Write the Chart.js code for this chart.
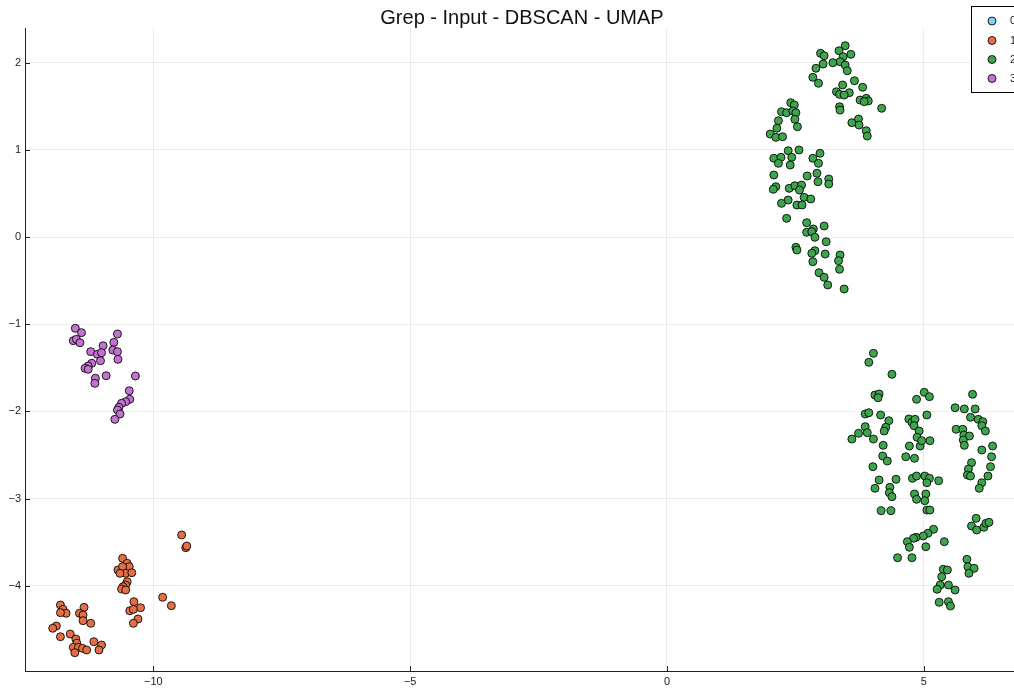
<!DOCTYPE html>
<html>
<head>
<meta charset="utf-8">
<script src="https://cdn.jsdelivr.net/npm/chart.js@4/dist/chart.umd.min.js"></script>
<style>
  html, body { margin: 0; padding: 0; background: #fff; }
  #wrap { width: 1014px; height: 690px; }
</style>
</head>
<body>
<div id="wrap"><canvas id="c" width="1014" height="690"></canvas></div>
<script>
// ---------- data ----------
const chartTitle = "Grep - Input - DBSCAN - UMAP";
const seriesLabels = ["0", "1", "2", "3"];
const xTicks = [-10, -5, 0, 5];
const yTicks = [-4, -3, -2, -1, 0, 1, 2];

// cluster 0 (noise) - no visible points
const cluster0X = [];
const cluster0Y = [];

// cluster 1 (orange)
const cluster1X = [-9.45, -9.37, -9.35, -10.60, -10.51, -10.47, -10.69, -10.60, -10.54, -10.42, -10.65, -10.51, -10.54, -10.59, -10.62, -10.54,
  -9.82, -9.65, -10.38, -10.25, -10.46, -10.39, -10.30, -10.39, -11.81, -11.76, -11.70, -11.81, -11.35, -11.44, -11.37, -11.37, -11.22,
  -11.89, -11.96, -11.81, -11.62, -11.51, -11.49, -11.56, -11.46, -11.53, -11.38, -11.30, -11.16, -11.01, -11.06];
const cluster1Y = [-3.417, -3.563, -3.544, -3.685, -3.742, -3.781, -3.819, -3.781, -3.857, -3.850, -3.857, -3.953, -3.991, -4.010, -4.037, -4.048,
  -4.132, -4.228, -4.182, -4.251, -4.286, -4.270, -4.381, -4.430, -4.220, -4.270, -4.315, -4.308, -4.247, -4.315, -4.335, -4.400, -4.430,
  -4.461, -4.487, -4.584, -4.553, -4.610, -4.659, -4.705, -4.705, -4.767, -4.717, -4.736, -4.641, -4.679, -4.736];

// cluster 2 (green) - upper group then lower group
const cluster2X = [3.47, 3.35, 2.99, 3.06, 3.58, 3.43, 3.37, 3.23, 3.04, 3.47, 3.51, 2.90, 2.84, 2.95, 3.65, 3.81, 3.42, 3.30, 3.36, 3.55,
  3.45, 3.76, 3.88, 3.92, 3.84, 4.18, 3.36, 3.37, 3.60, 3.73, 3.74, 3.88, 3.90, 2.41, 2.48, 2.23, 2.33, 2.45, 2.51, 2.17,
  2.49, 2.14, 2.54, 2.01, 2.12, 2.25, 2.36, 2.57, 2.08, 2.22, 2.17, 2.43, 2.40, 2.84, 2.98, 2.95, 2.92, 2.73, 2.94, 3.15,
  3.15, 2.08, 2.12, 2.07, 2.38, 2.49, 2.62, 2.58, 2.67, 2.80, 2.36, 2.23, 2.53, 2.63, 2.33, 2.72, 2.85, 2.72, 2.82, 3.06,
  2.88, 3.10, 2.51, 2.53, 2.88, 2.82, 3.08, 2.84, 3.37, 3.34, 3.36, 2.96, 3.06, 3.13, 3.45,
  4.02, 3.93, 4.38, 4.05, 4.13, 4.11, 4.86, 5.01, 5.11, 5.95, 3.86, 3.93, 4.16, 4.32, 3.86, 3.73, 3.90, 3.60, 4.02, 4.26,
  4.23, 4.21, 4.20, 4.29, 4.01, 4.71, 4.77, 4.83, 4.81, 5.06, 4.91, 4.87, 4.93, 4.96, 5.12, 4.72, 4.65, 4.82, 5.61, 5.79,
  6.00, 5.91, 6.06, 6.15, 6.13, 6.20, 5.63, 5.76, 5.78, 5.89, 5.77, 5.79, 6.13, 6.34, 6.32, 6.30, 5.93, 5.87, 5.85, 5.91,
  6.25, 6.13, 6.08, 4.13, 4.46, 4.05, 4.34, 4.33, 4.38, 4.78, 4.86, 5.02, 5.11, 5.06, 5.29, 4.82, 4.86, 5.04, 5.02, 5.06,
  5.12, 4.17, 4.36, 6.02, 5.93, 6.03, 6.17, 6.21, 6.27, 5.19, 5.08, 4.99, 4.85, 4.80, 4.68, 4.72, 5.40, 5.04, 4.49, 4.77,
  5.84, 5.86, 5.98, 5.88, 5.38, 5.46, 5.35, 5.32, 5.48, 5.26, 5.61, 5.30, 5.48, 5.52];
const cluster2Y = [2.194, 2.136, 2.107, 2.079, 2.095, 2.068, 2.010, 1.999, 1.984, 1.972, 1.907, 1.935, 1.831, 1.763, 1.792, 1.717, 1.743, 1.666, 1.636, 1.655,
  1.628, 1.571, 1.591, 1.560, 1.552, 1.476, 1.494, 1.456, 1.311, 1.353, 1.284, 1.219, 1.158, 1.540, 1.514, 1.437, 1.425, 1.445, 1.425, 1.334,
  1.350, 1.247, 1.265, 1.181, 1.143, 1.150, 0.990, 0.998, 0.903, 0.914, 0.845, 0.914, 0.826, 0.903, 0.960, 0.845, 0.731, 0.700, 0.634, 0.665,
  0.608, 0.711, 0.577, 0.547, 0.558, 0.588, 0.596, 0.539, 0.455, 0.436, 0.424, 0.386, 0.367, 0.367, 0.214, 0.164, 0.092, 0.054, 0.061, 0.126,
  -0.003, -0.054, -0.118, -0.149, -0.157, -0.187, -0.195, -0.283, -0.206, -0.272, -0.370, -0.409, -0.462, -0.550, -0.596,
  -1.334, -1.437, -1.575, -1.812, -1.800, -1.843, -1.861, -1.781, -1.831, -1.804, -2.030, -2.015, -2.041, -2.107, -2.175, -2.251, -2.244, -2.317, -2.317, -2.182,
  -2.225, -2.389, -2.511, -2.569, -2.634, -2.087, -2.125, -2.091, -2.164, -2.041, -2.225, -2.297, -2.397, -2.336, -2.336, -2.397, -2.520, -2.538, -1.958, -1.972,
  -1.972, -2.068, -2.091, -2.118, -2.164, -2.225, -2.205, -2.205, -2.271, -2.282, -2.328, -2.389, -2.443, -2.397, -2.520, -2.634, -2.588, -2.661, -2.729, -2.741,
  -2.741, -2.818, -2.882, -2.787, -2.779, -2.882, -2.870, -2.932, -2.978, -2.767, -2.741, -2.741, -2.767, -2.818, -2.795, -2.947, -3.008, -2.947, -3.024, -3.131,
  -3.131, -3.139, -3.139, -3.226, -3.314, -3.360, -3.329, -3.283, -3.272, -3.352, -3.398, -3.429, -3.444, -3.455, -3.494, -3.558, -3.494, -3.552, -3.678, -3.678,
  -3.696, -3.781, -3.799, -3.857, -3.811, -3.819, -3.896, -3.991, -3.991, -4.040, -4.048, -4.189, -4.182, -4.232];

// cluster 3 (purple)
const cluster3X = [-11.52, -11.40, -11.56, -11.50, -11.43, -10.70, -10.77, -10.98, -11.22, -11.09, -11.01, -10.79, -10.70, -10.69, -11.03, -11.20,
  -11.27, -11.33, -11.27, -11.13, -11.14, -10.92, -10.35, -10.47, -10.46, -10.54, -10.62, -10.67, -10.70, -10.65, -10.75];
const cluster3Y = [-1.047, -1.097, -1.189, -1.173, -1.212, -1.112, -1.208, -1.247, -1.315, -1.345, -1.327, -1.296, -1.315, -1.403, -1.419, -1.448,
  -1.479, -1.506, -1.517, -1.620, -1.678, -1.591, -1.594, -1.763, -1.861, -1.889, -1.907, -1.953, -1.984, -2.030, -2.091];

const seriesColors = ["#80CDFC", "#E36F47", "#3EA44E", "#C371D2"];

// ---------- build ----------
function zip(xs, ys) { return xs.map((x, i) => ({ x: x, y: ys[i] })); }
const seriesData = [zip(cluster0X, cluster0Y), zip(cluster1X, cluster1Y), zip(cluster2X, cluster2Y), zip(cluster3X, cluster3Y)];

const FONT = "'Liberation Sans', Arial, Helvetica, sans-serif";
const fmt = v => String(v).replace('-', '\u2212');

const titlePlugin = {
  id: 'plotTitle',
  afterDraw(chart) {
    const ctx = chart.ctx;
    ctx.save();
    ctx.fillStyle = '#111';
    ctx.font = "20px " + FONT;
    ctx.textAlign = 'center';
    ctx.textBaseline = 'middle';
    ctx.fillText(chartTitle, 522, 18);
    ctx.restore();
  }
};

const innerTicks = {
  id: 'innerTicks',
  afterDraw(chart) {
    const ctx = chart.ctx, a = chart.chartArea;
    const xs = chart.scales.x, ys = chart.scales.y;
    ctx.save();
    ctx.strokeStyle = '#222';
    ctx.lineWidth = 1;
    ctx.beginPath();
    xTicks.forEach(v => {
      const p = Math.round(xs.getPixelForValue(v)) + 0.5;
      ctx.moveTo(p, a.bottom); ctx.lineTo(p, a.bottom - 5);
    });
    yTicks.forEach(v => {
      const p = Math.round(ys.getPixelForValue(v)) + 0.5;
      ctx.moveTo(a.left, p); ctx.lineTo(a.left + 5, p);
    });
    ctx.stroke();
    ctx.restore();
  }
};

const legendBox = {
  id: 'legendBox',
  afterDraw(chart) {
    const ctx = chart.ctx;
    ctx.save();
    ctx.fillStyle = '#fff';
    ctx.fillRect(971.5, 6.5, 80, 86);
    ctx.strokeStyle = '#000';
    ctx.lineWidth = 1;
    ctx.strokeRect(971.5, 6.5, 80, 86);
    const ys = [21, 40.5, 59.5, 78.5];
    seriesLabels.forEach((lab, i) => {
      ctx.beginPath();
      ctx.arc(992, ys[i], 4, 0, Math.PI * 2);
      ctx.fillStyle = seriesColors[i];
      ctx.fill();
      ctx.strokeStyle = 'rgba(0,0,0,0.85)';
      ctx.stroke();
      ctx.fillStyle = '#222';
      ctx.font = "11px " + FONT;
      ctx.textAlign = 'left';
      ctx.textBaseline = 'middle';
      ctx.fillText(lab, 1010, ys[i]);
    });
    ctx.restore();
  }
};

new Chart(document.getElementById('c'), {
  type: 'scatter',
  data: {
    datasets: seriesLabels.map((lab, i) => ({
      label: lab,
      data: seriesData[i],
      backgroundColor: seriesColors[i],
      borderColor: 'rgba(0,0,0,0.85)',
      borderWidth: 1,
      pointRadius: 4,
      pointHoverRadius: 4
    }))
  },
  options: {
    responsive: false,
    animation: false,
    devicePixelRatio: 1,
    layout: { autoPadding: false, padding: { top: 28, left: 0, right: 0, bottom: 0 } },
    plugins: { legend: { display: false }, tooltip: { enabled: false }, title: { display: false } },
    scales: {
      x: {
        type: 'linear',
        min: -12.50, max: 6.757,
        afterFit(s) { s.height = 19; s.paddingLeft = 0; s.paddingRight = 0; },
        afterBuildTicks(s) { s.ticks = xTicks.map(v => ({ value: v })); },
        grid: { color: 'rgba(0,0,0,0.07)', drawTicks: false, tickLength: 0 },
        border: { display: true, color: '#222', width: 1 },
        ticks: { callback: v => fmt(v), padding: 4, color: '#222', font: { size: 11, family: FONT }, maxRotation: 0 }
      },
      y: {
        type: 'linear',
        min: -4.977, max: 2.397,
        afterFit(s) { s.width = 25; s.paddingTop = 0; s.paddingBottom = 0; },
        afterBuildTicks(s) { s.ticks = yTicks.map(v => ({ value: v })); },
        grid: { color: 'rgba(0,0,0,0.07)', drawTicks: false, tickLength: 0 },
        border: { display: true, color: '#222', width: 1 },
        ticks: { callback: v => fmt(v), padding: 4, color: '#222', font: { size: 11, family: FONT } }
      }
    }
  },
  plugins: [titlePlugin, innerTicks, legendBox]
});
</script>
</body>
</html>
